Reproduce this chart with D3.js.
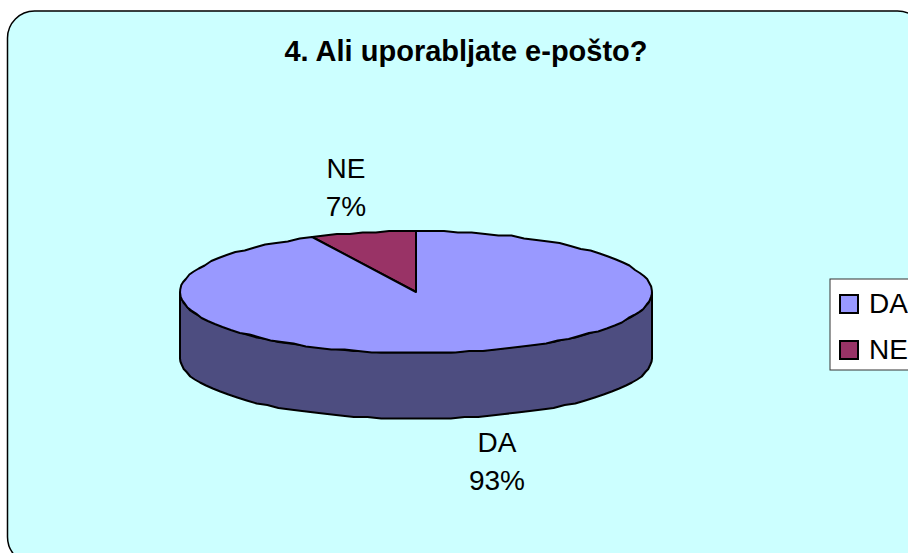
<!DOCTYPE html>
<meta charset="utf-8" />
<style>
  html, body { margin: 0; padding: 0; background: #fff; overflow: hidden; }
  text { font-family: "Liberation Sans", Arial, sans-serif; fill: #000; }
</style>

<body>
  <div id="chart"></div>
  <script src="https://cdn.jsdelivr.net/npm/d3@7"></script>
  <script>
    const title = "4. Ali uporabljate e-pošto?";
    const categories = ["NE", "DA"];
    const shares = [7.25, 92.75];
    const legendOrder = ["DA", "NE"];
    const colors = ["#993366", "#9999ff"];
    const sideColor = "#4d4d80";

    const width = 908, height = 553;
    const cx = 416, cy = 292, rx = 236, ry = 61, depth = 66;

    const svg = d3.select("#chart").append("svg").attr("width", width).attr("height", height);

    // background panel runs off the bottom and right of the picture
    svg.append("rect").attr("x", 7.5).attr("y", 11).attr("width", 917).attr("height", 553)
      .attr("rx", 27).attr("ry", 27).attr("fill", "#ccffff").attr("stroke", "#000").attr("stroke-width", 1.5);

    svg.append("text").attr("x", 466).attr("y", 61).attr("text-anchor", "middle")
      .attr("font-size", 29).attr("font-weight", "bold").text(title);

    // slices go anti-clockwise from 12 o'clock, NE first
    const pie = d3.pie().sort(null).value((d) => d).startAngle(0).endAngle(-2 * Math.PI);
    const slices = pie(shares);

    const px = d3.scaleLinear().domain([-1, 1]).range([cx - rx, cx + rx]);
    const py = d3.scaleLinear().domain([-1, 1]).range([cy - ry, cy + ry]);
    // y snapped to a coarse grid, the original outline is visibly stepped
    const point = (a, drop = 0) => [px(Math.sin(a)), Math.round(py(-Math.cos(a)) / 1.5) * 1.5 + drop];
    const line = d3.line();

    function arcPoints(a0, a1, drop = 0) {
      const n = Math.max(2, Math.ceil(Math.abs(a1 - a0) / 0.06));
      return d3.range(n + 1).map((i) => point(a0 + ((a1 - a0) * i) / n, drop));
    }

    // side wall, front half of the ellipse
    const front = arcPoints(Math.PI / 2, (3 * Math.PI) / 2);
    const frontLow = arcPoints((3 * Math.PI) / 2, Math.PI / 2, depth);
    svg.append("path").attr("d", line(front.concat(frontLow)) + "Z")
      .attr("fill", sideColor).attr("stroke", "#000").attr("stroke-width", 2).attr("stroke-linejoin", "round");

    slices.forEach((s, i) => {
      const pts = [[cx, cy]].concat(arcPoints(s.startAngle, s.endAngle));
      svg.append("path").attr("d", line(pts) + "Z")
        .attr("fill", colors[i]).attr("stroke", "#000").attr("stroke-width", 2).attr("stroke-linejoin", "round");
    });

    // data labels
    const labelPos = [[346, 178], [497, 452]];
    categories.forEach((c, i) => {
      const t = svg.append("text").attr("text-anchor", "middle").attr("font-size", 28);
      t.append("tspan").attr("x", labelPos[i][0]).attr("y", labelPos[i][1]).text(c);
      t.append("tspan").attr("x", labelPos[i][0]).attr("y", labelPos[i][1] + 38).text(Math.round(shares[i]) + "%");
    });

    // legend
    svg.append("rect").attr("x", 830).attr("y", 279).attr("width", 90).attr("height", 91)
      .attr("fill", "#fff").attr("stroke", "#333").attr("stroke-width", 1);
    legendOrder.forEach((c, i) => {
      const k = categories.indexOf(c);
      svg.append("rect").attr("x", 840).attr("y", 295 + i * 46).attr("width", 18).attr("height", 18)
        .attr("fill", colors[k]).attr("stroke", "#000").attr("stroke-width", 2);
      svg.append("text").attr("x", 869).attr("y", 313 + i * 46).attr("font-size", 28).text(c);
    });
  </script>
</body>
